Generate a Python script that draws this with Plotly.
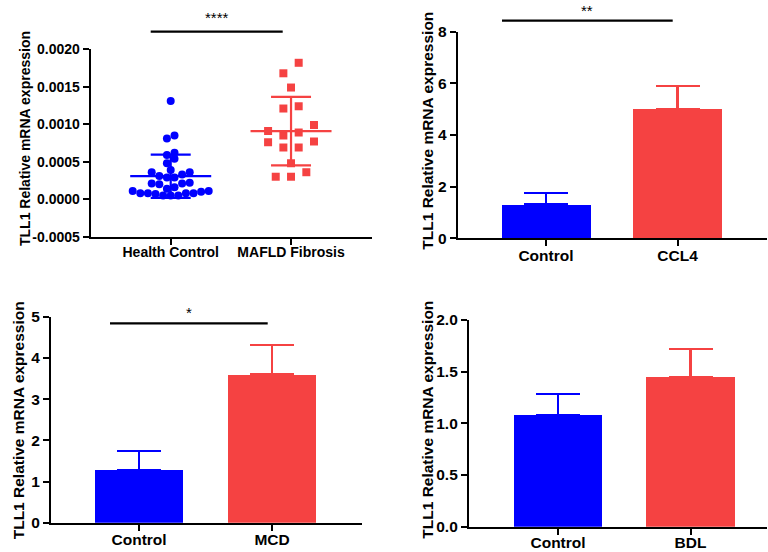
import plotly.graph_objects as go

# ---------------- data ----------------
scatter_categories = ["Health Control", "MAFLD Fibrosis"]
health_control = [0.00131, 0.00085, 0.00081, 0.00062, 0.00059, 0.00054, 0.00048,
                  0.00039, 0.00036, 0.00036, 0.00033, 0.00031, 0.00029, 0.00029,
                  0.00022, 0.00021, 0.00021, 0.00020, 0.00016, 0.00014, 0.00011,
                  0.00011, 0.00010, 0.00008, 0.00008, 0.00008, 0.00008, 0.00007,
                  0.00005, 0.00005, 0.00005]
mafld_fibrosis = [0.00182, 0.00168, 0.00149, 0.00124, 0.00121, 0.00099, 0.00085,
                  0.00089, 0.00091, 0.00076, 0.00077, 0.00069, 0.00069, 0.00048,
                  0.00036, 0.00030, 0.00030]

ccl4_categories = ["Control", "CCL4"]
ccl4_mean = [1.32, 5.00]
ccl4_sd = [0.42, 0.90]

mcd_categories = ["Control", "MCD"]
mcd_mean = [1.28, 3.60]
mcd_sd = [0.46, 0.71]

bdl_categories = ["Control", "BDL"]
bdl_mean = [1.08, 1.45]
bdl_sd = [0.205, 0.27]

y_title = "TLL1 Relative mRNA expression"
BLUE = "#0000FF"
RED = "#F54242"
FONT = "Arial, Liberation Sans, sans-serif"

W, H = 768, 552


def px2x(px):
    return px / W


def px2y(py):
    return 1 - py / H


# ---------- helpers ----------
def swarm_offsets(vals, px_per_unit_y, bin_px, step_px):
    """GraphPad-like column scatter: bin points by height, centre each row."""
    idx = sorted(range(len(vals)), key=lambda i: vals[i])
    offs = [0.0] * len(vals)
    bins = []
    cur = []
    start = None
    for i in idx:
        ypx = vals[i] * px_per_unit_y
        if start is None or ypx - start > bin_px:
            if cur:
                bins.append(cur)
            cur = [i]
            start = ypx
        else:
            cur.append(i)
    if cur:
        bins.append(cur)
    for b in bins:
        n = len(b)
        slots = [(k - (n - 1) / 2) * step_px for k in range(n)]
        slots.sort(key=lambda s: (abs(s), s))
        for i, s in zip(b, slots):
            offs[i] = s
    return offs


def mean_sd(v):
    m = sum(v) / len(v)
    sd = (sum((a - m) ** 2 for a in v) / (len(v) - 1)) ** 0.5
    return m, sd


fig = go.Figure()

# ---------- panel 1: scatter ----------
ax1_x = (90.7, 372.0)
ax1_y = (236.7, 49.3)
x1_range = [-0.665, 1.673]
y1_range = [-0.0005, 0.002]
px_per_cat1 = (ax1_x[1] - ax1_x[0]) / (x1_range[1] - x1_range[0])
px_per_val1 = (ax1_y[0] - ax1_y[1]) / (y1_range[1] - y1_range[0])

groups = [(health_control, BLUE, "circle", 8, 6.0, 7.6),
          (mafld_fibrosis, RED, "square", 8, 11.5, 15.3)]
for gi, (vals, col, sym, size, binpx, steppx) in enumerate(groups):
    offs = swarm_offsets(vals, px_per_val1, binpx, steppx)
    xs = [gi + o / px_per_cat1 for o in offs]
    fig.add_trace(go.Scatter(x=xs, y=vals, mode="markers", xaxis="x", yaxis="y",
                             marker=dict(color=col, symbol=sym, size=size, line=dict(width=0)),
                             showlegend=False, cliponaxis=False))
    m, sd = mean_sd(vals)
    hw = 40.5 / px_per_cat1
    cw = 20.0 / px_per_cat1
    lx = [gi - hw, gi + hw, None, gi, gi, None, gi - cw, gi + cw, None, gi - cw, gi + cw]
    ly = [m, m, None, m - sd, m + sd, None, m + sd, m + sd, None, m - sd, m - sd]
    fig.add_trace(go.Scatter(x=lx, y=ly, mode="lines", xaxis="x", yaxis="y",
                             line=dict(color=col, width=2.2), showlegend=False,
                             cliponaxis=False))

# ---------- bar panels ----------
bar_panels = [
    ("x2", "y2", ccl4_mean, ccl4_sd, 0.677),
    ("x3", "y3", mcd_mean, mcd_sd, 0.667),
    ("x4", "y4", bdl_mean, bdl_sd, 0.67),
]
for xa, ya, means, sds, bw in bar_panels:
    for i, (m, s) in enumerate(zip(means, sds)):
        col = BLUE if i == 0 else RED
        fig.add_trace(go.Bar(x=[i], y=[m], width=bw, xaxis=xa, yaxis=ya,
                             marker=dict(color=col, line=dict(width=0)),
                             error_y=dict(type="data", array=[s], arrayminus=[0],
                                          symmetric=False, color=col, thickness=2.2,
                                          width=22),
                             showlegend=False))

# ---------- axes ----------
def axis_common(size):
    return dict(showline=True, linecolor="black", linewidth=2.2, ticks="outside",
                ticklen=6, tickwidth=2.2, tickcolor="black", showgrid=False,
                zeroline=False, tickfont=dict(family=FONT, size=size, color="black"),
                fixedrange=True, automargin=False)


def bold(lbls):
    return ["<b>%s</b>" % l for l in lbls]


layout = dict(
    width=W, height=H, margin=dict(l=0, r=0, t=0, b=0, pad=0, autoexpand=False),
    paper_bgcolor="white", plot_bgcolor="white", showlegend=False,
    bargap=0,
)

# panel 1
layout["xaxis"] = dict(axis_common(14), domain=[px2x(ax1_x[0]), px2x(ax1_x[1])],
                       range=x1_range, anchor="y", tickvals=[0, 1],
                       ticktext=bold(scatter_categories), ticklabelstandoff=-5)
y1_ticks = [-0.0005, 0.0, 0.0005, 0.0010, 0.0015, 0.0020]
layout["yaxis"] = dict(axis_common(14), domain=[px2y(ax1_y[0]), px2y(ax1_y[1])],
                       range=y1_range, anchor="x", tickvals=y1_ticks,
                       ticktext=bold(["%.4f" % v for v in y1_ticks]))

# panel 2
ax2_x = (457.7, 766.7)
ax2_y = (238.3, 31.7)
layout["xaxis2"] = dict(axis_common(15.5), domain=[px2x(ax2_x[0]), px2x(ax2_x[1])],
                        range=[-0.671, 1.678], anchor="y2", tickvals=[0, 1],
                        ticktext=bold(ccl4_categories), ticklabelstandoff=-4)
y2_ticks = [0, 2, 4, 6, 8]
layout["yaxis2"] = dict(axis_common(15.5), domain=[px2y(ax2_y[0]), px2y(ax2_y[1])],
                        range=[0, 8], anchor="x2", tickvals=y2_ticks,
                        ticktext=bold([str(v) for v in y2_ticks]))

# panel 3
ax3_x = (51.0, 361.7)
ax3_y = (522.7, 316.7)
layout["xaxis3"] = dict(axis_common(15.5), domain=[px2x(ax3_x[0]), px2x(ax3_x[1])],
                        range=[-0.662, 1.674], anchor="y3", tickvals=[0, 1],
                        ticktext=bold(mcd_categories), ticklabelstandoff=-4)
y3_ticks = [0, 1, 2, 3, 4, 5]
layout["yaxis3"] = dict(axis_common(15.5), domain=[px2y(ax3_y[0]), px2y(ax3_y[1])],
                        range=[0, 5], anchor="x3", tickvals=y3_ticks,
                        ticktext=bold([str(v) for v in y3_ticks]))

# panel 4
ax4_x = (469.0, 766.7)
ax4_y = (526.7, 320.0)
layout["xaxis4"] = dict(axis_common(15.5), domain=[px2x(ax4_x[0]), px2x(ax4_x[1])],
                        range=[-0.672, 1.575], anchor="y4", tickvals=[0, 1],
                        ticktext=bold(bdl_categories), ticklabelstandoff=-5)
y4_ticks = [0.0, 0.5, 1.0, 1.5, 2.0]
layout["yaxis4"] = dict(axis_common(15.5), domain=[px2y(ax4_y[0]), px2y(ax4_y[1])],
                        range=[0, 2], anchor="x4", tickvals=y4_ticks,
                        ticktext=bold(["%.1f" % v for v in y4_ticks]))

fig.update_layout(**layout)

# ---------- y titles ----------
titles = [(25.0, 139.0, 14), (426.7, 131.0, 15.5), (18.3, 420.0, 15.5), (426.7, 420.0, 15.5)]
for tx, ty, fs in titles:
    fig.add_annotation(text="<b>%s</b>" % y_title, x=px2x(tx), y=px2y(ty),
                       xref="paper", yref="paper", showarrow=False, textangle=-90,
                       xanchor="center", yanchor="middle",
                       font=dict(family=FONT, size=fs, color="black"))

# ---------- significance bars ----------
sig = [((150.7, 282.7), 31.7, "****", 17.0, "middle"),
       ((502.0, 672.7), 20.7, "**", 0.0, "top"),
       ((110.0, 267.7), 323.3, "*", 312.0, "middle")]
for (xa, xb), ly, txt, ty, anc in sig:
    fig.add_shape(type="line", xref="paper", yref="paper",
                  x0=px2x(xa), x1=px2x(xb), y0=px2y(ly), y1=px2y(ly),
                  line=dict(color="black", width=2.2))
    fig.add_annotation(text=txt, x=px2x((xa + xb) / 2), y=px2y(ty), xref="paper",
                       yref="paper", showarrow=False, xanchor="center", yanchor=anc,
                       font=dict(family=FONT, size=15, color="black"))

fig.write_html("out.html", config={"displayModeBar": False},
               post_script="document.body.style.margin='0';document.body.style.padding='0';")
